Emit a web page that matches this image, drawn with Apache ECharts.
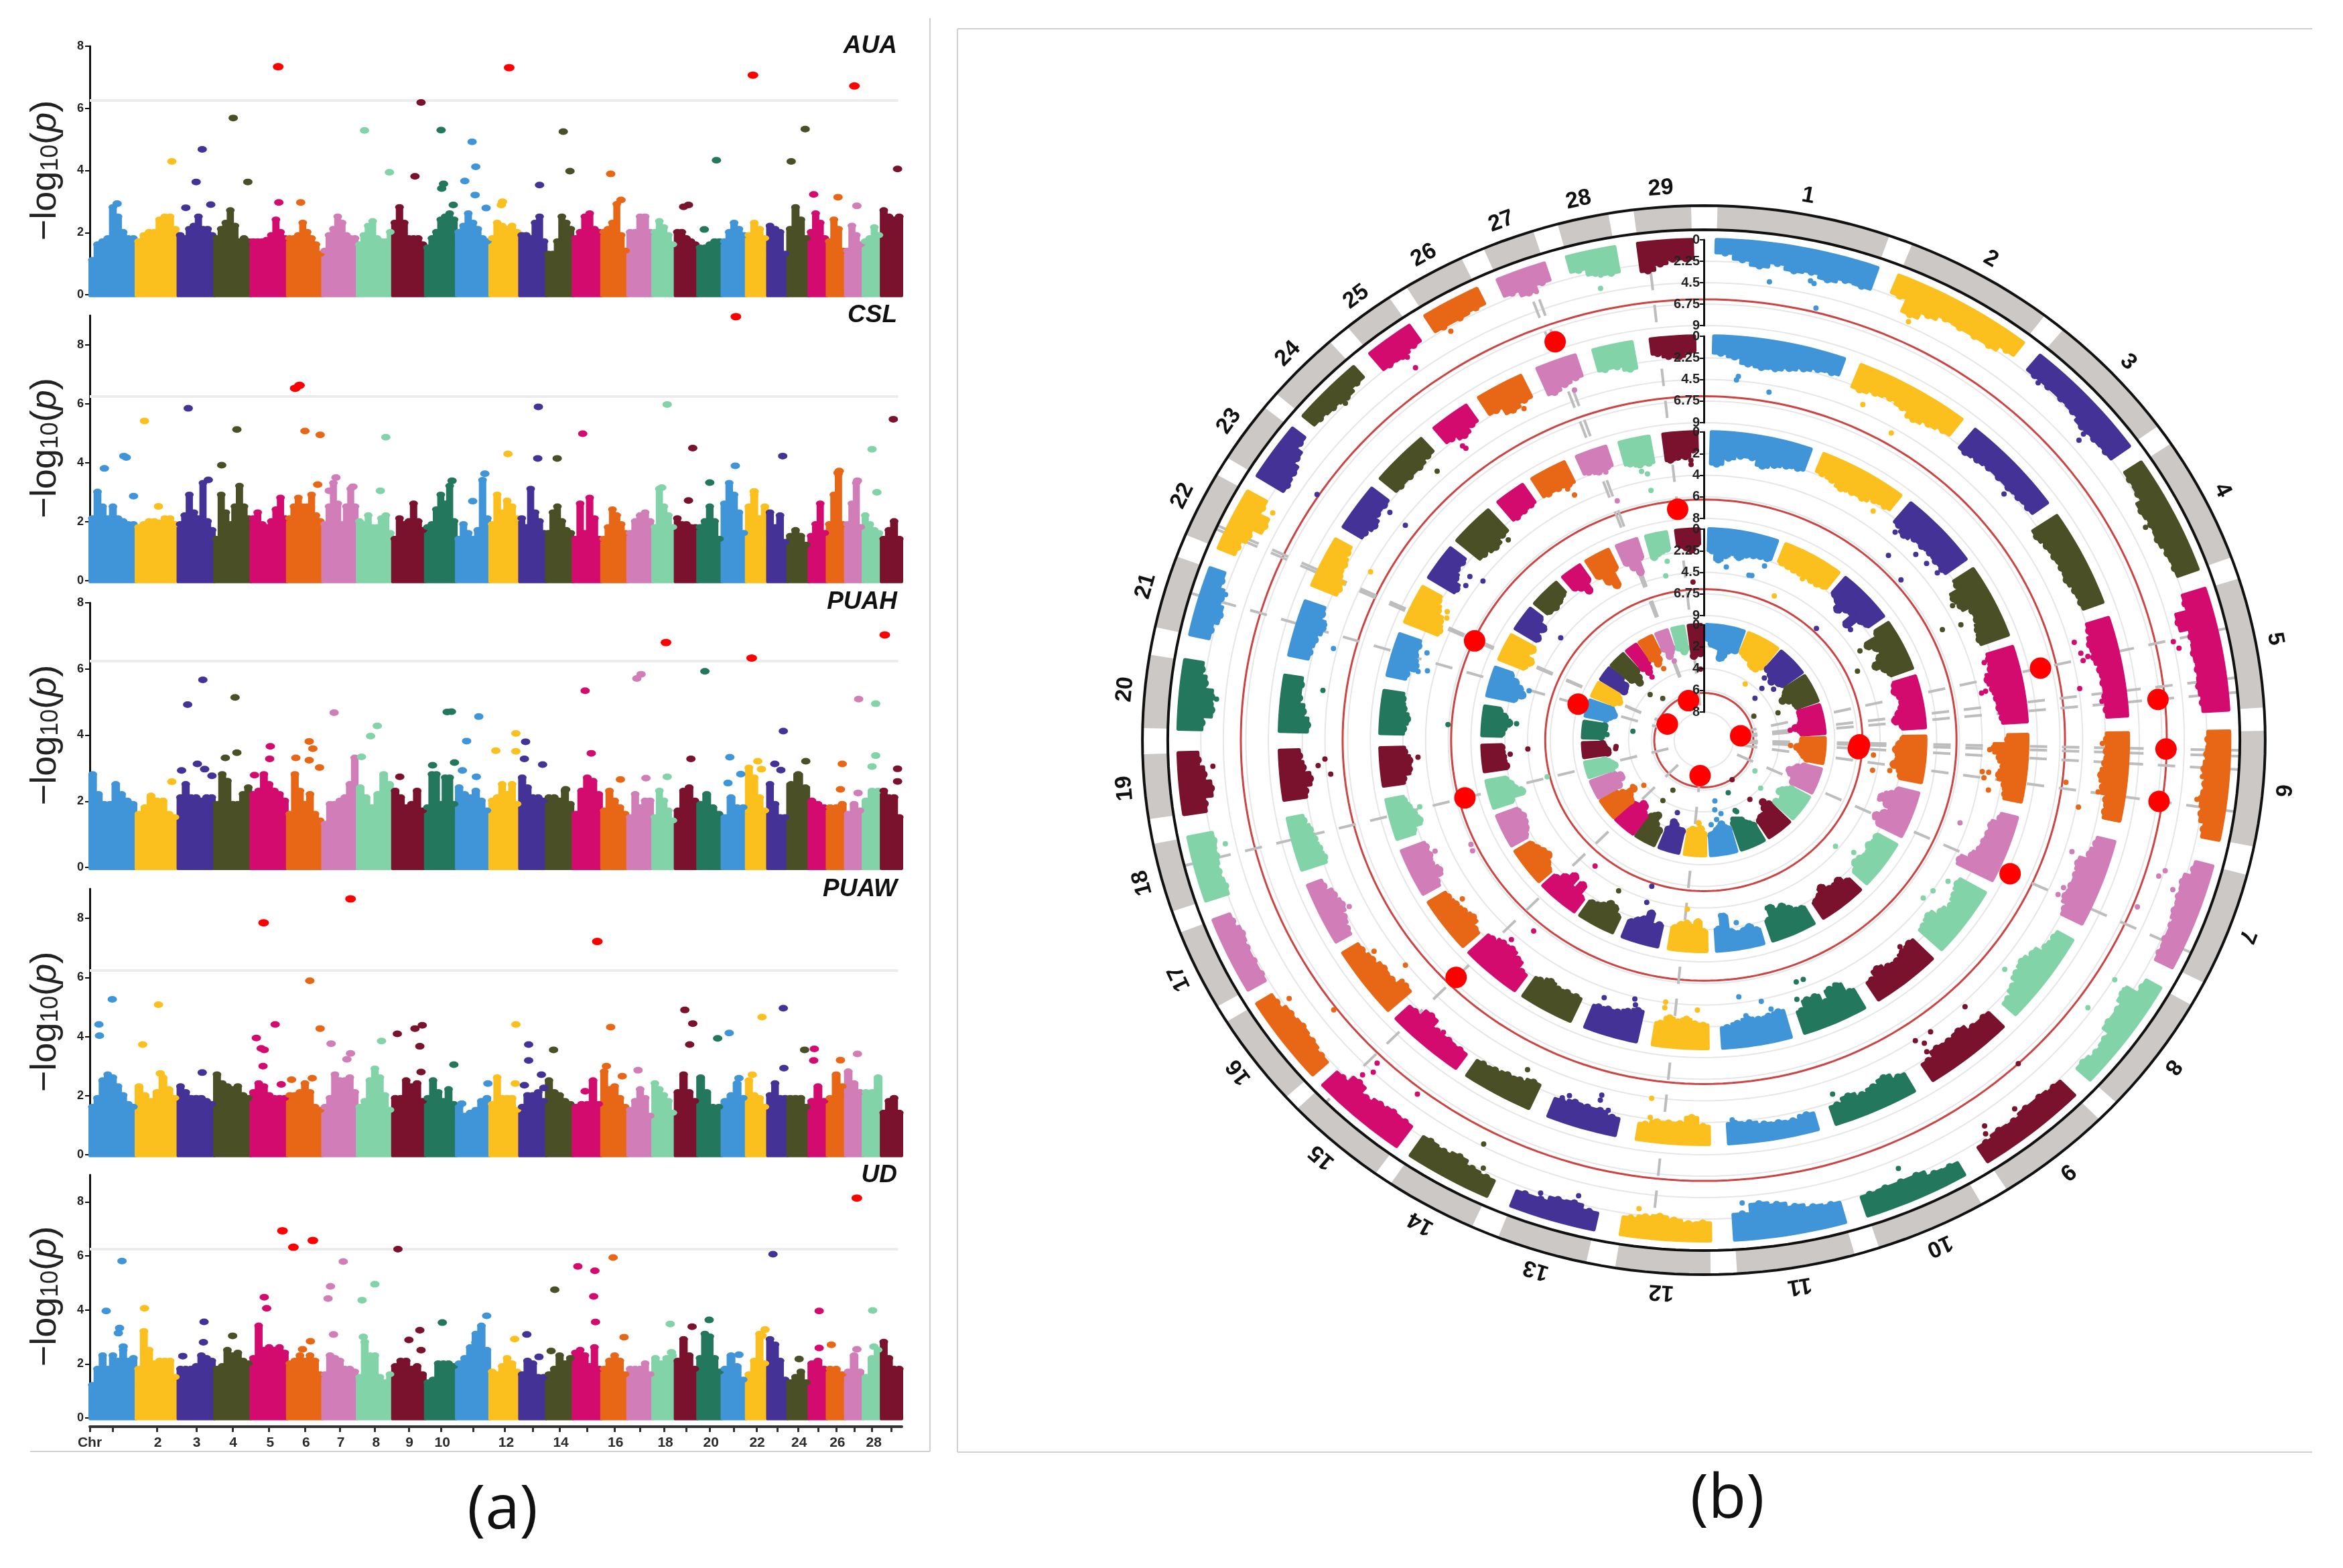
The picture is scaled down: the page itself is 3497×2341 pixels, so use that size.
<!DOCTYPE html>
<html><head><meta charset="utf-8">
<style>html,body{margin:0;padding:0;background:#fff}#c{width:3497px;height:2341px}</style>
<script src="https://cdn.jsdelivr.net/npm/echarts@6/dist/echarts.min.js"></script>
</head><body><div id="c"></div>
<script>
const chrNames=[1,2,3,4,5,6,7,8,9,10,11,12,13,14,15,16,17,18,19,20,21,22,23,24,25,26,27,28,29];
const chrSizes=[76,69,60,60,60,58,57,58,54,51,55,49,44,44,47,43,41,37,37,40,40,35,33,35,30,30,29,30,34];
const chrArcs=[[1.4,19.3],[21.8,37.4],[39.8,54],[56.3,70],[72.4,86.5],[89,101.5],[104.6,117],[119.7,132.7],[135.2,147.3],[150.3,161.8],[164.4,176.6],[179.3,189.1],[192.1,201.5],[204.4,213.9],[215.8,226.4],[228.1,238.2],[240.1,248.9],[251.3,258.8],[261.5,268.5],[271.3,279.2],[282.2,290.1],[292.6,299.8],[301.9,308.5],[310.4,318.2],[320.6,325.9],[328,334.4],[336.9,342.3],[344.9,350.2],[352.8,358.7]];
const palette=['#4095D8','#FBBF1E','#443296','#4A4F26','#D30B6F','#E76717','#D07DB8','#83D3A9','#7A122D','#23775D'];
const xLabels=[[150,'Chr'],[262,'2'],[326,'3'],[386,'4'],[447,'5'],[506,'6'],[563,'7'],[621,'8'],[676,'9'],[730,'10'],[835,'12'],[925,'14'],[1015,'16'],[1097,'18'],[1172,'20'],[1248,'22'],[1317,'24'],[1380,'26'],[1440,'28']];

const AUA_profile=[[1.2,1.7,1.8,1.9,2.9,2.6,2.1,1.9,1.9],[1.8,2.0,2.1,2.1,2.5,2.6,2.6,2.2],[2.0,1.9,2.2,2.3,2.6,2.2,2.2,2.0],[1.9,2.2,2.4,2.8,2.3,1.8,1.9,1.8],[1.8,1.8,1.8,1.85,2.0,2.5,2.1,1.9],[1.9,1.9,2.0,2.4,2.1,1.9,1.7,1.4],[1.5,2.0,2.2,2.6,2.4,2.0,1.9,1.9],[1.7,2.0,2.3,2.45,1.9,1.8,1.8,2.1],[2.4,2.9,2.4,1.9,1.9,1.9,1.7],[1.6,1.9,2.1,2.5,2.6,2.7,2.5],[2.1,2.3,2.7,2.4,2.2,1.9,1.8],[1.9,2.4,2.3,2.2,2.3,2.1],[2.0,2.0,1.9,2.4,2.6,1.8],[1.4,1.4,1.8,2.6,2.4,2.2],[1.9,2.1,2.6,2.7,2.2,2.1],[2.1,2.2,2.4,3.0,2.0,1.5],[2.1,2.1,2.6,2.6,2.1],[2.1,2.45,2.25,2.0,1.7],[2.1,2.1,1.9,1.8,1.7],[1.6,1.6,1.7,1.8,1.8],[1.8,2.1,2.4,2.2,2.0],[2.0,2.4,2.2,1.9],[2.3,2.2,2.1,1.4],[2.2,2.9,2.5,1.9],[2.1,2.7,2.4,1.9],[1.8,2.5,2.2,1.5],[1.5,2.3,2.0,1.7],[1.8,1.9,2.25,2.0],[2.8,2.6,2.5,2.6]];
const CSL_profile=[[2.2,3.1,2.6,2.2,2.6,2.2,2.1,2.0,2.0],[1.9,2.0,2.1,2.1,2.05,2.2,2.2,2.0],[2.0,2.3,3.0,2.4,2.2,3.4,2.1,1.8],[1.5,3.0,2.4,2.0,2.6,3.3,2.6,2.2],[2.2,2.4,2.0,1.9,2.1,2.5,2.9,2.2],[2.2,2.6,2.9,2.6,2.6,3.0,2.3,2.1],[2.0,2.6,3.4,2.7,2.0,2.6,3.2,2.6],[2.1,2.0,2.3,1.9,1.9,2.2,2.3,1.7],[1.5,2.2,2.0,2.1,2.7,2.1,1.8],[1.9,2.0,2.5,3.0,2.7,3.3,2.1],[1.5,2.0,1.7,1.5,1.8,3.5,2.2],[2.0,3.0,2.4,2.8,2.6,2.2],[2.2,1.9,3.2,2.4,2.1,1.7],[1.7,2.4,2.6,2.1,1.8,1.7],[1.5,2.7,1.7,2.9,2.2,1.5],[1.5,1.9,2.5,2.3,2.0,1.7],[1.7,2.1,2.3,2.4,2.1],[1.9,3.2,2.6,2.3,1.9],[2.2,2.0,2.0,1.9,1.9],[1.9,2.1,2.6,2.1,1.5],[2.7,3.4,3.0,2.4,1.7],[2.6,3.0,2.2,2.6],[2.4,1.9,2.3,1.4],[1.6,1.8,1.6,1.3],[1.6,2.0,2.7,1.7],[2.0,3.0,3.7,2.0],[2.0,2.7,3.4,1.9],[2.3,2.0,1.8,1.7],[1.5,1.8,2.1,1.5]];
const PUAH_profile=[[2.9,2.3,2.0,2.0,2.6,2.3,2.1,2.0],[1.7,1.9,2.25,2.1,2.1,1.7,1.6],[2.2,2.6,2.2,2.2,2.1,2.2,2.2],[2.0,2.9,2.7,2.0,2.0,2.3,2.5],[2.3,2.4,2.9,2.6,2.4,2.3,2.1],[1.7,2.9,2.4,2.0,2.3,1.7,1.5],[1.4,2.0,2.0,2.1,2.2,2.6,3.4],[2.5,2.2,1.9,2.3,2.9,2.6],[2.4,2.2,1.9,2.0,2.4,1.8],[1.9,2.9,2.9,2.0,2.8,2.8,2.0],[2.5,2.3,2.2,2.4,2.1,1.8],[2.1,2.2,2.6,2.3,2.6,2.0],[2.8,2.5,2.2,2.2,2.1],[2.2,2.2,2.1,2.4,2.0],[1.7,2.4,2.8,2.7,2.3],[1.8,2.4,2.1,1.9,1.7],[1.6,2.3,1.9,2.1,2.1],[1.6,2.4,2.1,1.8,1.5],[1.8,2.4,2.5,2.1],[2.0,2.3,1.9,1.7],[1.6,2.2,1.9,1.9],[3.1,2.8,2.2,1.8],[2.6,2.0,1.6,1.6],[2.6,2.9,2.5],[2.1,2.0,1.9],[1.9,1.9,2.0],[1.7,2.0,1.8],[2.1,2.4,2.4],[2.4,2.2,2.2,1.6]];
const PUAW_profile=[[1.7,2.0,2.6,2.8,2.7,2.4,2.1,1.8,1.7],[2.4,2.1,1.9,2.2,2.7,2.3,2.0],[2.4,2.2,2.0,2.0,2.0,1.9,1.8],[2.8,2.5,2.4,2.3,2.4,2.1,2.0],[2.2,2.5,2.4,2.1,2.0,2.0,2.0],[2.1,2.1,2.2,2.5,2.2,1.7,1.6],[1.7,2.0,2.8,2.6,2.6,2.7,2.2],[1.7,1.9,2.6,3.0,2.7,2.1,1.6],[2.0,2.0,2.6,2.4,2.5,1.9],[2.0,2.6,2.2,1.9,2.3,1.8],[1.7,1.4,1.5,1.6,1.9,2.0],[1.8,2.7,2.0,2.0,2.0,1.6],[1.7,2.1,2.1,2.2,1.9],[2.6,2.2,2.1,1.9,1.8],[1.7,1.8,1.8,2.6,1.8],[2.9,2.3,2.4,2.0,1.7],[1.6,1.9,2.3,2.0,1.4],[2.5,2.3,2.1,1.9,1.5],[2.2,2.8,2.2,1.9],[2.7,2.2,1.7,1.7],[1.9,2.1,2.5,2.0],[2.6,2.1,2.0,1.7],[2.1,2.5,2.0,2.0],[2.0,2.0,2.0,1.7],[1.9,2.4,1.9],[2.0,2.8,2.4],[2.9,2.5,2.2],[2.2,2.2,2.7],[1.5,1.9,2.0,1.5]];
const UD_profile=[[1.3,1.9,2.4,1.9,2.4,2.2,2.6,2.2,2.3],[1.9,3.3,2.6,2.1,2.2,2.2,2.2,1.6],[1.9,1.9,1.9,2.0,2.4,2.3,2.2],[1.9,2.0,2.6,2.4,2.5,2.2,2.1],[2.3,3.5,2.6,2.7,2.6,2.7,2.5],[2.1,2.2,2.4,2.2,2.4,2.2,1.7],[1.7,2.4,2.3,2.2,1.9,1.9,1.8],[1.6,2.9,2.4,2.4,1.6,1.4,1.7],[2.0,2.2,2.2,1.9,2.0,1.7],[1.4,1.5,2.1,2.1,2.1,2.0],[2.1,2.3,2.7,3.2,3.5,2.6],[1.8,1.7,2.0,2.3,2.1,1.8],[1.7,2.2,2.1,1.6,1.6],[1.7,1.9,2.4,2.1,2.3],[2.5,2.6,2.4,2.0,2.7,1.9],[1.9,2.2,2.4,2.2,1.7],[1.9,1.9,1.9,2.1,1.7],[2.3,2.1,2.3,2.4],[2.2,3.0,2.4,1.9],[2.3,3.2,3.1,2.3,1.8],[1.9,2.4,2.0,1.5],[1.7,2.2,3.2,2.1],[3.0,2.8,2.2,1.5],[1.4,1.6,1.8,1.4],[2.1,2.2,1.9],[1.9,1.9,1.7],[1.8,2.4,1.8],[1.6,2.3,2.6],[2.9,2.3,1.9,1.9]];

const AUA_hits=[[460,7.34],[840,7.31],[1241,7.07],[1408,6.72]];
const AUA_points=[[695,6.19],[386,5.69],[602,5.29],[728,5.30],[929,5.25],[1327,5.33],[779,4.92],[335,4.68],[285,4.29],[1181,4.33],[1304,4.29],[785,4.12],[940,3.98],[1479,4.05],[643,3.94],[1007,3.89],[685,3.81],[767,3.66],[325,3.63],[410,3.63],[890,3.53],[732,3.57],[729,3.42],[784,3.21],[1341,3.23],[1381,3.14],[461,2.97],[497,2.97],[829,2.99],[827,2.89],[1135,2.89],[1127,2.83],[1412,2.86],[1024,3.05],[748,2.89],[195,2.93],[349,2.9],[308,2.8],[802,2.79],[1161,2.1]];
const CSL_hits=[[488,6.53],[495,6.63],[1213,8.96]];
const CSL_points=[[312,5.85],[888,5.9],[1100,5.98],[240,5.42],[1472,5.48],[392,5.13],[504,5.08],[529,4.95],[961,4.99],[637,4.87],[1142,4.5],[1437,4.46],[838,4.3],[206,4.23],[210,4.18],[887,4.15],[919,4.15],[1290,4.23],[367,3.92],[174,3.81],[1212,3.9],[1383,3.72],[1381,3.66],[555,3.5],[746,3.39],[1170,3.33],[1413,3.39],[525,3.26],[222,2.87],[583,3.19],[544,3.05],[1243,3.03],[1445,3.0],[628,3.05],[1091,3.16],[800,3.63],[1135,2.72],[780,2.7],[263,2.52],[345,3.42]];
const PUAH_hits=[[1098,6.8],[1239,6.33],[1458,7.03]];
const PUAH_points=[[1162,5.93],[1057,5.84],[1050,5.71],[336,5.67],[965,5.34],[389,5.14],[311,4.92],[1415,5.09],[1443,4.95],[552,4.68],[738,4.7],[745,4.71],[790,4.56],[623,4.28],[612,3.97],[1291,4.12],[851,4.05],[770,3.82],[867,3.8],[511,3.81],[447,3.66],[517,3.59],[818,3.53],[851,3.51],[392,3.47],[975,3.45],[1443,3.38],[1203,3.33],[373,3.31],[489,3.31],[446,3.28],[511,3.24],[1139,3.28],[865,3.28],[1328,3.21],[597,3.34],[1388,3.13],[1249,3.21],[1277,3.13],[714,3.09],[750,3.17],[528,3.02],[1479,2.98],[1437,3.05],[327,3.13],[895,3.11],[763,2.93],[339,2.97],[301,2.93],[1255,2.97],[1287,2.94],[1100,2.74],[660,2.74],[1023,2.66],[786,2.74],[421,2.79],[351,2.77],[1065,2.7],[1479,2.6],[285,2.59],[1200,2.55],[1385,2.36],[1414,2.25],[933,2.36],[1221,2.82]];
const PUAW_hits=[[436,7.85],[579,8.66],[985,7.22]];
const PUAW_points=[[512,5.89],[187,5.26],[263,5.08],[1291,4.96],[1129,4.9],[1256,4.66],[165,4.41],[455,4.41],[851,4.41],[1142,4.44],[697,4.38],[685,4.27],[529,4.27],[1007,4.32],[656,4.09],[1202,4.12],[1183,3.94],[166,4.03],[424,3.95],[630,3.85],[547,3.76],[237,3.73],[872,3.73],[1137,3.73],[693,3.67],[432,3.6],[437,3.55],[1342,3.58],[1326,3.55],[913,3.55],[1413,3.41],[579,3.43],[573,3.23],[872,3.19],[1341,3.19],[1385,3.2],[749,3.05],[435,3.0],[1292,2.93],[1000,3.0],[1052,2.86],[695,2.8],[335,2.78],[266,2.75],[1240,2.71],[893,2.71],[1026,2.66],[516,2.59],[482,2.54],[465,2.38],[805,2.41],[850,2.41],[865,2.35],[965,2.15],[897,2.26],[762,1.73],[1218,2.59]];
const UD_hits=[[467,6.93],[485,6.32],[517,6.57],[1412,8.14]];
const UD_points=[[657,6.25],[1274,6.06],[1011,5.94],[203,5.81],[567,5.79],[953,5.61],[981,5.45],[619,4.95],[546,4.87],[915,4.75],[437,4.47],[979,4.5],[542,4.42],[598,4.36],[240,4.06],[441,4.06],[177,3.96],[1350,3.96],[1438,3.98],[1105,3.48],[1169,3.63],[803,3.78],[338,3.56],[730,3.53],[982,3.55],[1141,3.38],[1261,3.27],[1256,3.04],[199,3.33],[197,3.14],[869,3.09],[693,3.25],[1029,2.99],[385,3.04],[551,3.09],[675,2.89],[849,2.92],[337,2.8],[513,2.84],[600,3.0],[785,2.79],[1370,2.71],[695,2.51],[500,2.54],[1350,2.59],[1412,2.54],[1440,2.64],[1107,2.43],[909,2.48],[889,2.26],[1317,2.18],[1218,2.34],[205,2.64],[303,2.29]];

const traitNames=['AUA','CSL','PUAH','PUAW','UD'];
const traitProfiles=[AUA_profile,CSL_profile,PUAH_profile,PUAW_profile,UD_profile];
const traitPoints=[AUA_points,CSL_points,PUAH_points,PUAW_points,UD_points];
const traitHits=[AUA_hits,CSL_hits,PUAH_hits,PUAW_hits,UD_hits];
const threshold=6.25;
const xMin=150,xMax=1486;

/* layout */
const panels=[{top:69,h:371,max:8},{top:471,h:396,max:9},{top:900,h:395,max:8},{top:1327,h:397,max:9},{top:1754,h:363,max:9}];
const titleY=[69,471,899,1328,1755];
const cx=2543,cy=1105,K=1.05;
const ringBands=[{r:[42,172],max:8,step:2},{r:[186,315],max:9,step:2.25},{r:[331,460],max:8,step:2},{r:[474,603],max:9,step:2.25},{r:[619,747],max:9,step:2.25}];
const trackR=860, polarTrack=5;

const chrStart=[];let acc=xMin;chrSizes.forEach(s=>{chrStart.push(acc);acc+=s;});
const chrCenters=chrStart.map((s,i)=>s+chrSizes[i]/2);
const chrOf=x=>{for(let i=chrSizes.length-1;i>=0;i--){if(x>=chrStart[i])return i;}return 0;};
const colorOf=i=>palette[i%10];
const colorAt=x=>colorOf(chrOf(x));
const angleAt=x=>{const i=chrOf(x),a=chrArcs[i];return a[0]+(x-chrStart[i])/chrSizes[i]*(a[1]-a[0]);};
const stretch=p=>[cx+(p[0]-cx)*K,p[1]];
/* tops of the dense part of each chromosome, as [position, value] */
const profileTops=prof=>{const out=[];prof.forEach((vals,i)=>vals.forEach((v,j)=>out.push([chrStart[i]+(j+0.5)/vals.length*chrSizes[i],v])));return out;};

const fam='"Liberation Sans",Arial,sans-serif';
const grid=[],xAxis=[],yAxis=[],series=[],polar=[],angleAxis=[],radiusAxis=[],title=[];

/* ---------- panel (a) ---------- */
panels.forEach((p,t)=>{
  grid.push({left:134,width:1212,top:p.top,height:p.h,containLabel:false});
  const last=t===4;
  xAxis.push({gridIndex:t,type:'value',min:xMin,max:xMax,show:last,offset:last?13:0,
    splitLine:{show:false},
    axisLine:{show:last,onZero:false,lineStyle:{color:'#333',width:4}},
    axisTick:last?{show:true,length:8,lineStyle:{color:'#333',width:3},customValues:[xMin].concat(chrCenters)}:{show:false},
    axisLabel:last?{show:true,margin:14,fontFamily:fam,fontSize:21,fontWeight:'bold',color:'#2a2a2a',hideOverlap:false,
      customValues:xLabels.map(d=>d[0]),formatter:v=>{const f=xLabels.find(d=>d[0]===v);return f?f[1]:'';}}:{show:false}});
  const ticks=[];for(let v=0;v<=p.max-p.max%2;v+=2)ticks.push(v);
  yAxis.push({gridIndex:t,type:'value',min:0,max:p.max,
    splitLine:{show:false},
    axisLine:{show:true,onZero:false,lineStyle:{color:'#111',width:3}},
    axisTick:{show:true,length:7,lineStyle:{color:'#111',width:2},customValues:ticks},
    axisLabel:{fontFamily:fam,fontSize:18,fontWeight:'bold',color:'#222',margin:9,customValues:ticks},
    name:'{a|\u2212log}{b|10}{a|(}{c|p}{a|)}',nameLocation:'middle',nameRotate:90,nameGap:39,
    nameTextStyle:{rich:{a:{fontFamily:fam,fontSize:54,color:'#222'},b:{fontFamily:fam,fontSize:36,color:'#222',padding:[16,0,0,0]},c:{fontFamily:fam,fontSize:54,fontStyle:'italic',color:'#222'}}}});
  const prof=traitProfiles[t];
  series.push({type:'custom',name:traitNames[t]+' mass',xAxisIndex:t,yAxisIndex:t,z:3,silent:true,clip:false,
    data:chrNames.map((c,i)=>[chrStart[i],i]),
    renderItem:(params,api)=>{
      const i=api.value(1),xs=chrStart[i],sz=chrSizes[i],vals=prof[i],n=vals.length,pts=[api.coord([xs,-0.04])];
      vals.forEach((v,j)=>{pts.push(api.coord([xs+j/n*sz,v-0.08]));pts.push(api.coord([xs+(j+1)/n*sz,v-0.08]));});
      pts.push(api.coord([xs+sz,-0.04]));
      return {type:'polygon',shape:{points:pts},style:{fill:colorOf(i),stroke:colorOf(i),lineWidth:4,lineJoin:'round'}};
    }});
  series.push({type:'scatter',name:traitNames[t]+' tops',xAxisIndex:t,yAxisIndex:t,z:3,silent:true,symbol:'circle',symbolSize:[13,9],
    data:profileTops(prof).map(d=>[d[0],d[1]-0.08]),itemStyle:{color:q=>colorAt(q.value[0]),opacity:1}});
  series.push({type:'scatter',name:traitNames[t],xAxisIndex:t,yAxisIndex:t,z:4,silent:true,symbol:'circle',symbolSize:[14,10],
    data:traitPoints[t],itemStyle:{color:q=>colorAt(q.value[0]),opacity:1},
    markLine:{silent:true,symbol:'none',label:{show:false},lineStyle:{color:'#ECECEC',width:4,type:'solid'},z:1,
      data:[[{coord:[xMin,threshold]},{coord:[1480,threshold]}]],animation:false}});
  series.push({type:'scatter',name:traitNames[t]+' significant',xAxisIndex:t,yAxisIndex:t,z:5,silent:true,symbol:'circle',symbolSize:[16,11],
    data:traitHits[t],itemStyle:{color:'#FF0000',opacity:1}});
  title.push({text:traitNames[t],right:3497-1339,top:titleY[t]-19,padding:0,textStyle:{fontFamily:fam,fontSize:37,fontWeight:'bold',fontStyle:'italic',color:'#111'}});
});

/* ---------- panel (b) ---------- */
ringBands.forEach((b,t)=>{
  polar.push({center:[cx,cy],radius:b.r});
  angleAxis.push({polarIndex:t,type:'value',min:0,max:360,startAngle:90,show:false});
  radiusAxis.push({polarIndex:t,type:'value',inverse:true,min:0,max:b.max,interval:b.step,z:8,
    splitLine:{show:false},splitArea:{show:false},
    axisLine:{show:true,lineStyle:{color:'#111',width:3}},
    axisTick:{show:true,length:6,lineStyle:{color:'#111',width:2}},
    axisLabel:{fontFamily:fam,fontSize:20,fontWeight:'bold',color:'#222',margin:6,showMinLabel:true,showMaxLabel:true,formatter:v=>String(v)}});
});
polar.push({center:[cx,cy],radius:[0,trackR]});
angleAxis.push({polarIndex:polarTrack,type:'value',min:0,max:360,startAngle:90,show:false});
radiusAxis.push({polarIndex:polarTrack,type:'value',min:0,max:trackR,show:false});

const arcPts=(api,val)=>{const pts=[];for(let a=0;a<=360;a+=1.5)pts.push(stretch(api.coord([val,a])));return pts;};

ringBands.forEach((b,t)=>{
  const vals=[];for(let v=b.step;v<=b.max+1e-6;v+=b.step)vals.push(v);
  series.push({type:'custom',coordinateSystem:'polar',polarIndex:t,z:1,silent:true,
    data:vals.map(v=>[v]),
    renderItem:(params,api)=>({type:'polyline',shape:{points:arcPts(api,api.value(0))},style:{fill:null,stroke:'#E6E6E6',lineWidth:2}})});
  series.push({type:'custom',coordinateSystem:'polar',polarIndex:t,z:2,silent:true,
    data:[[threshold]],
    renderItem:(params,api)=>({type:'polyline',shape:{points:arcPts(api,api.value(0))},style:{fill:null,stroke:'#CC4444',lineWidth:3}})});
  const prof=traitProfiles[t];
  series.push({type:'custom',coordinateSystem:'polar',polarIndex:t,z:4,silent:true,
    data:chrNames.map((c,i)=>[i]),
    renderItem:(params,api)=>{
      const i=api.value(0),a=chrArcs[i],vals=prof[i],n=vals.length,pts=[],span=a[1]-a[0],kids=[];
      const seg=(v,a0,a1)=>{const m=Math.max(2,Math.ceil(Math.abs(a1-a0)/1.2));for(let k=0;k<=m;k++)pts.push(stretch(api.coord([v,a0+(a1-a0)*k/m])));};
      seg(0,a[0],a[1]);
      for(let j=n-1;j>=0;j--)seg(vals[j],a[0]+span*(j+1)/n,a[0]+span*j/n);
      kids.push({type:'polygon',shape:{points:pts},style:{fill:colorOf(i),stroke:colorOf(i),lineWidth:6,lineJoin:'round'}});
      vals.forEach((v,j)=>{const c=stretch(api.coord([v,a[0]+span*(j+0.5)/n]));
        kids.push({type:'circle',shape:{cx:c[0],cy:c[1],r:6},style:{fill:colorOf(i)}});});
      return {type:'group',children:kids};
    }});
  series.push({type:'custom',coordinateSystem:'polar',polarIndex:t,z:5,silent:true,
    data:traitPoints[t].map(d=>[d[1],angleAt(d[0]),chrOf(d[0])]),
    renderItem:(params,api)=>{const c=stretch(api.coord([api.value(0),api.value(1)]));
      return {type:'circle',shape:{cx:c[0],cy:c[1],r:4},style:{fill:colorOf(api.value(2))}};}});
  series.push({type:'custom',coordinateSystem:'polar',polarIndex:t,z:6,silent:true,
    data:traitHits[t].map(d=>[d[1],angleAt(d[0])]),
    renderItem:(params,api)=>{const c=stretch(api.coord([api.value(0),api.value(1)]));
      return {type:'circle',shape:{cx:c[0],cy:c[1],r:16},style:{fill:'#FF0000'}};}});
});
/* radial guide lines through every significant locus */
const hitAngles=[];traitHits.forEach(h=>h.forEach(d=>hitAngles.push(angleAt(d[0]))));
series.push({type:'custom',coordinateSystem:'polar',polarIndex:polarTrack,z:3,silent:true,
  data:hitAngles.map(a=>[a]),
  renderItem:(params,api)=>{const a=api.value(0);
    return {type:'polyline',shape:{points:[stretch(api.coord([52,a])),stretch(api.coord([762,a]))]},style:{fill:null,stroke:'#BDBDBD',lineWidth:4,lineDash:[26,22]}};}});
/* chromosome track */
series.push({type:'custom',coordinateSystem:'polar',polarIndex:polarTrack,z:2,silent:true,
  data:chrNames.map((c,i)=>[i]),
  renderItem:(params,api)=>{const i=api.value(0),a=chrArcs[i],pts=[],m=Math.ceil((a[1]-a[0])/1.2);
    for(let k=0;k<=m;k++)pts.push(stretch(api.coord([762,a[0]+(a[1]-a[0])*k/m])));
    for(let k=m;k>=0;k--)pts.push(stretch(api.coord([798,a[0]+(a[1]-a[0])*k/m])));
    return {type:'polygon',shape:{points:pts},style:{fill:'#CBC8C6'}};}});
series.push({type:'custom',coordinateSystem:'polar',polarIndex:polarTrack,z:3,silent:true,
  data:[[762],[798]],
  renderItem:(params,api)=>({type:'polyline',shape:{points:arcPts(api,api.value(0))},style:{fill:null,stroke:'#111',lineWidth:4}})});
series.push({type:'custom',coordinateSystem:'polar',polarIndex:polarTrack,z:3,silent:true,
  data:chrNames.map((c,i)=>[(chrArcs[i][0]+chrArcs[i][1])/2,c]),
  renderItem:(params,api)=>{const a=api.value(0),p=stretch(api.coord([826,a]));
    return {type:'text',x:p[0],y:p[1],rotation:-a*Math.PI/180,style:{text:String(api.value(1)),x:0,y:0,textAlign:'center',textVerticalAlign:'middle',fontFamily:fam,fontSize:34,fontWeight:'bold',fill:'#111'}};}});

title.push({text:'(a)',left:750,textAlign:'center',top:2210,padding:0,textStyle:{fontFamily:'"Open Sans",sans-serif',fontSize:92,fontWeight:'normal',color:'#111'}});
title.push({text:'(b)',left:2578,textAlign:'center',top:2194,padding:0,textStyle:{fontFamily:'"Open Sans",sans-serif',fontSize:92,fontWeight:'normal',color:'#111'}});

const frame=(x1,y1,x2,y2)=>({type:'line',silent:true,z:0,shape:{x1,y1,x2,y2},style:{stroke:'#D0D0D0',lineWidth:2}});
const chart=echarts.init(document.getElementById('c'),null,{renderer:'canvas',width:3497,height:2341});
chart.setOption({animation:false,backgroundColor:'#fff',title,grid,xAxis,yAxis,polar,angleAxis,radiusAxis,series,
  graphic:[frame(1388,27,1388,2167),frame(45,2167,1388,2167),frame(1429,43,1429,2168),frame(1429,43,3451,43),frame(1429,2168,3451,2168)]});
</script></body></html>
